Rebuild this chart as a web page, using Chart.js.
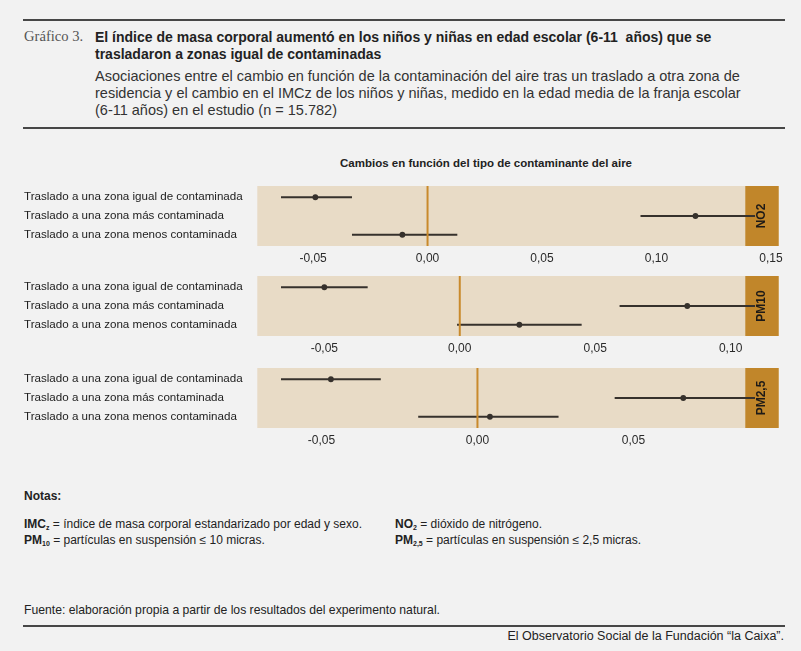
<!DOCTYPE html>
<html lang="es">
<head>
<meta charset="utf-8">
<title>Gráfico 3</title>
<script src="https://cdn.jsdelivr.net/npm/chart.js@4.4.1/dist/chart.umd.min.js"></script>
<style>
  body { margin: 0; background: #f2f2f2; width: 801px; height: 651px; position: relative; overflow: hidden;
         font-family: "Liberation Sans", Arial, sans-serif; color: #222; }
  .abs { position: absolute; white-space: nowrap; }
  .regla { position: absolute; left: 23px; width: 762px; height: 2px; background: #474747; }
  #num { left: 24px; top: 28px; line-height: 17px; font: 14.6px "Liberation Serif", serif; color: #555; }
  #titulo { left: 95px; top: 28.5px; line-height: 17px; font-size: 14px; font-weight: bold; color: #222; }
  #subtitulo { left: 95px; top: 67.5px; line-height: 17px; font-size: 14.5px; color: #333; }
  #tituloGraf { left: 340px; top: 156px; line-height: 14px; font-size: 11.5px; font-weight: bold; color: #222; }
  canvas { position: absolute; left: 0; }
  .nota { font-size: 12px; line-height: 13px; color: #222; }
  .nota b sub { font-size: 7px; vertical-align: -2px; }
  #fuente { left: 24px; top: 603px; font-size: 12.2px; line-height: 14px; color: #222; }
  #credito { right: 17px; top: 629px; font-size: 12.5px; line-height: 14px; color: #222; }
</style>
</head>
<body>
<div class="regla" style="top:19px"></div>
<div id="num" class="abs">Gráfico 3.</div>
<div id="titulo" class="abs">El índice de masa corporal aumentó en los niños y niñas en edad escolar (6-11&nbsp; años) que se<br>trasladaron a zonas igual de contaminadas</div>
<div id="subtitulo" class="abs">Asociaciones entre el cambio en función de la contaminación del aire tras un traslado a otra zona de<br>residencia y el cambio en el IMCz de los niños y niñas, medido en la edad media de la franja escolar<br>(6-11 años) en el estudio (n = 15.782)</div>
<div class="regla" style="top:127px"></div>
<div id="tituloGraf" class="abs">Cambios en función del tipo de contaminante del aire</div>

<canvas id="grafNO2" width="801" height="98" style="top:175.5px"></canvas>
<canvas id="grafPM10" width="801" height="98" style="top:266px"></canvas>
<canvas id="grafPM25" width="801" height="98" style="top:358px"></canvas>

<div class="abs nota" style="left:24px; top:490px; font-weight:bold">Notas:</div>
<div class="abs nota" style="left:24px; top:518px"><b>IMC<sub>z</sub></b> = índice de masa corporal estandarizado por edad y sexo.<br><b>PM<sub>10</sub></b> = partículas en suspensión ≤ 10 micras.</div>
<div class="abs nota" style="left:395px; top:518px"><b>NO<sub>2</sub></b> = dióxido de nitrógeno.<br><b>PM<sub>2,5</sub></b> = partículas en suspensión ≤ 2,5 micras.</div>

<div id="fuente" class="abs">Fuente: elaboración propia a partir de los resultados del experimento natural.</div>
<div class="regla" style="top:625px"></div>
<div id="credito" class="abs">El Observatorio Social de la Fundación “la Caixa”.</div>

<script>
// filas (de arriba a abajo)
const categorias = [
  "Traslado a una zona igual de contaminada",
  "Traslado a una zona más contaminada",
  "Traslado a una zona menos contaminada"
];

// NO2
const estimNO2 = [-0.049, 0.117, -0.011];
const infNO2 = [-0.064, 0.093, -0.033];
const supNO2 = [-0.033, 0.143, 0.013];
const ticksNO2 = [-0.05, 0, 0.05, 0.10, 0.15];

// PM10
const estimPM10 = [-0.050, 0.084, 0.022];
const infPM10 = [-0.066, 0.059, -0.001];
const supPM10 = [-0.034, 0.109, 0.045];
const ticksPM10 = [-0.05, 0, 0.05, 0.10];

// PM2,5
const estimPM25 = [-0.047, 0.066, 0.004];
const infPM25 = [-0.063, 0.044, -0.019];
const supPM25 = [-0.031, 0.089, 0.026];
const ticksPM25 = [-0.05, 0, 0.05];

const COLOR_PUNTO = "#36312c";
const COLOR_CERO = "#c98a2c";

// fondo del panel y franja lateral con el nombre del contaminante
const panelFondo = {
  id: "panelFondo",
  beforeDatasetsDraw(chart, args, opts) {
    const { ctx, chartArea: a } = chart;
    const anchoFranja = 33.4;
    ctx.save();
    ctx.fillStyle = "#e8dbc6";
    ctx.fillRect(a.left, a.top, a.width, a.height);
    ctx.fillStyle = "#c1862a";
    ctx.fillRect(a.right - anchoFranja, a.top, anchoFranja, a.height);
    ctx.translate(a.right - anchoFranja / 2, (a.top + a.bottom) / 2);
    ctx.rotate(-Math.PI / 2);
    ctx.fillStyle = "#1d1a17";
    ctx.font = 'bold 12px "Liberation Sans"';
    ctx.textAlign = "center";
    ctx.textBaseline = "middle";
    ctx.fillText(opts.texto, 0, 0);
    ctx.restore();
  }
};

function crearPanel(idCanvas, etiqueta, estim, inf, sup, ticks) {
  const lo = Math.min(...inf);
  const hi = Math.max(...sup);
  const margen = (hi - lo) * 0.05;

  let datasets = [
    {
      data: [{ x: 0, y: 0.4 }, { x: 0, y: 3.6 }],
      showLine: true,
      borderColor: COLOR_CERO,
      borderWidth: 2,
      pointRadius: 0
    }
  ];
  categorias.forEach((c, i) => {
    datasets.push({
      data: [{ x: inf[i], y: i + 1 }, { x: sup[i], y: i + 1 }],
      showLine: true,
      borderColor: COLOR_PUNTO,
      borderWidth: 2,
      pointRadius: 0
    });
  });
  datasets.push({
    data: estim.map((v, i) => ({ x: v, y: i + 1 })),
    pointRadius: 2.9,
    pointBackgroundColor: COLOR_PUNTO,
    pointBorderWidth: 0
  });

  new Chart(document.getElementById(idCanvas), {
    type: "scatter",
    data: { datasets: datasets },
    options: {
      responsive: false,
      animation: false,
      events: [],
      layout: { padding: { left: 24, right: 22.3, top: 10, bottom: 0 } },
      plugins: {
        legend: { display: false },
        tooltip: { enabled: false },
        panelFondo: { texto: etiqueta }
      },
      scales: {
        x: {
          min: lo - margen,
          max: hi + margen,
          grid: { display: false, drawTicks: false },
          border: { display: false },
          afterBuildTicks: (s) => { s.ticks = ticks.map((v) => ({ value: v })); },
          afterFit: (s) => { s.height = 28; },
          ticks: {
            padding: 5,
            color: "#2a2a2a",
            font: { family: "Liberation Sans", size: 12 },
            callback: (v) => v.toFixed(2).replace(".", ",")
          }
        },
        y: {
          min: 0.4,
          max: 3.6,
          reverse: true,
          grid: { display: false, drawTicks: false },
          border: { display: false },
          afterBuildTicks: (s) => { s.ticks = categorias.map((c, i) => ({ value: i + 1 })); },
          afterFit: (s) => { s.width = 233.3; },
          ticks: {
            crossAlign: "far",
            padding: 0,
            color: "#222",
            font: { family: "Liberation Sans", size: 11.6 },
            callback: (v) => categorias[v - 1]
          }
        }
      }
    },
    plugins: [panelFondo]
  });
}

crearPanel("grafNO2", "NO2", estimNO2, infNO2, supNO2, ticksNO2);
crearPanel("grafPM10", "PM10", estimPM10, infPM10, supPM10, ticksPM10);
crearPanel("grafPM25", "PM2,5", estimPM25, infPM25, supPM25, ticksPM25);
</script>
</body>
</html>
